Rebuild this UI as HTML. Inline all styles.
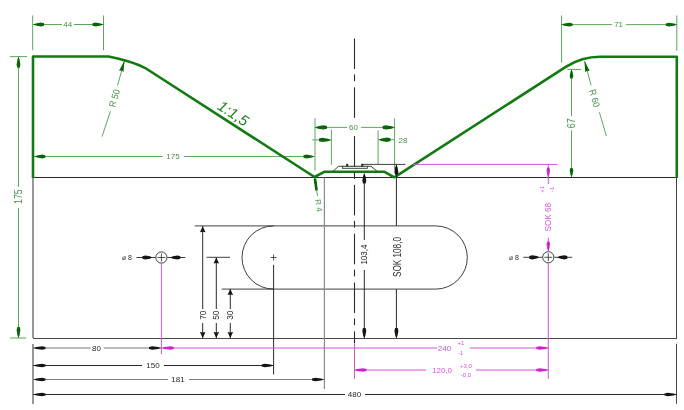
<!DOCTYPE html>
<html><head><meta charset="utf-8"><style>
html,body{margin:0;padding:0;background:#fff;width:684px;height:410px;overflow:hidden}
svg{display:block;will-change:transform}
text{font-family:"Liberation Sans", sans-serif}
</style></head><body>
<svg width="684" height="410" viewBox="0 0 684 410">
<line x1="33" y1="177.5" x2="677" y2="177.5" stroke="#2a2a2a" stroke-width="1" />
<line x1="33" y1="177.5" x2="33" y2="338" stroke="#959895" stroke-width="2" />
<line x1="676.5" y1="177.5" x2="676.5" y2="338.5" stroke="#474350" stroke-width="1" />
<line x1="33" y1="338.5" x2="677" y2="338.5" stroke="#4a4a4a" stroke-width="1" />
<line x1="32.7" y1="15.5" x2="32.7" y2="50.2" stroke="#5ea65e" stroke-width="1" />
<line x1="103.5" y1="15.5" x2="103.5" y2="50.2" stroke="#5ea65e" stroke-width="1" />
<line x1="33" y1="24.5" x2="62" y2="24.5" stroke="#5ea65e" stroke-width="1" />
<line x1="74" y1="24.5" x2="103.5" y2="24.5" stroke="#5ea65e" stroke-width="1" />
<polygon points="33.00,24.50 35.75,23.44 40.92,22.60 44.00,23.28 44.00,25.72 40.92,26.40 35.75,25.56" fill="#0a650a"/>
<polygon points="103.50,24.50 100.75,25.56 95.58,26.40 92.50,25.72 92.50,23.28 95.58,22.60 100.75,23.44" fill="#0a650a"/>
<text x="67.8" y="24.1" fill="#4a904a" font-size="8" text-anchor="middle" dominant-baseline="central" >44</text>
<line x1="561.6" y1="15.5" x2="561.6" y2="62.7" stroke="#5ea65e" stroke-width="1" />
<line x1="676.8" y1="15.5" x2="676.8" y2="50.6" stroke="#5ea65e" stroke-width="1" />
<line x1="561.6" y1="24.6" x2="612" y2="24.6" stroke="#5ea65e" stroke-width="1" />
<line x1="626" y1="24.6" x2="676.8" y2="24.6" stroke="#5ea65e" stroke-width="1" />
<polygon points="561.60,24.60 564.35,23.54 569.52,22.70 572.60,23.38 572.60,25.82 569.52,26.50 564.35,25.66" fill="#0a650a"/>
<polygon points="676.80,24.60 674.05,25.66 668.88,26.50 665.80,25.82 665.80,23.38 668.88,22.70 674.05,23.54" fill="#0a650a"/>
<text x="618.6" y="24.3" fill="#4a904a" font-size="8" text-anchor="middle" dominant-baseline="central" >71</text>
<line x1="10" y1="56.6" x2="27" y2="56.6" stroke="#5ea65e" stroke-width="1" />
<line x1="10" y1="338" x2="26" y2="338" stroke="#5ea65e" stroke-width="1" />
<line x1="18.5" y1="56.6" x2="18.5" y2="186.8" stroke="#5ea65e" stroke-width="1" />
<line x1="18.5" y1="208" x2="18.5" y2="338" stroke="#5ea65e" stroke-width="1" />
<polygon points="18.50,56.80 19.56,59.55 20.40,64.72 19.72,67.80 17.28,67.80 16.60,64.72 17.44,59.55" fill="#0a650a"/>
<polygon points="18.50,338.00 17.44,335.25 16.60,330.08 17.28,327.00 19.72,327.00 20.40,330.08 19.56,335.25" fill="#0a650a"/>
<text x="18.1" y="196.7" fill="#4a904a" font-size="10.8" text-anchor="middle" dominant-baseline="central" transform="rotate(-90 18.1 196.7)"  textLength="14.5" lengthAdjust="spacingAndGlyphs">175</text>
<line x1="33" y1="156.5" x2="162.7" y2="156.5" stroke="#5ea65e" stroke-width="1" />
<line x1="184.2" y1="156.5" x2="314.5" y2="156.5" stroke="#5ea65e" stroke-width="1" />
<polygon points="314.50,156.50 311.75,157.56 306.58,158.40 303.50,157.72 303.50,155.28 306.58,154.60 311.75,155.44" fill="#0a650a"/>
<polygon points="34.30,156.50 37.05,155.44 42.22,154.60 45.30,155.28 45.30,157.72 42.22,158.40 37.05,157.56" fill="#0a650a"/>
<text x="173" y="156.8" fill="#4a904a" font-size="8" text-anchor="middle" dominant-baseline="central" >175</text>
<line x1="124.7" y1="60.5" x2="117.5" y2="85.4" stroke="#5ea65e" stroke-width="1" />
<polygon points="124.50,60.40 123.49,72.08 121.54,70.56 119.07,70.80" fill="#0a650a"/>
<line x1="110.4" y1="111.3" x2="102" y2="136.6" stroke="#5ea65e" stroke-width="1" />
<text x="114.2" y="98.1" fill="#4a904a" font-size="9.5" text-anchor="middle" dominant-baseline="central" transform="rotate(-74 114.2 98.1)"  textLength="18" lengthAdjust="spacingAndGlyphs">R 50</text>
<line x1="585" y1="61.6" x2="591" y2="85.4" stroke="#5ea65e" stroke-width="1" />
<polygon points="584.30,60.60 589.73,71.00 587.26,70.76 585.31,72.28" fill="#0a650a"/>
<line x1="599.4" y1="112.3" x2="606.4" y2="136" stroke="#5ea65e" stroke-width="1" />
<text x="594.8" y="98.2" fill="#4a904a" font-size="9.5" text-anchor="middle" dominant-baseline="central" transform="rotate(74 594.8 98.2)"  textLength="18" lengthAdjust="spacingAndGlyphs">R 60</text>
<line x1="567.3" y1="69.4" x2="581" y2="69.4" stroke="#5ea65e" stroke-width="1" />
<line x1="571.5" y1="69.4" x2="571.5" y2="116.2" stroke="#5ea65e" stroke-width="1" />
<line x1="571.5" y1="130.4" x2="571.5" y2="177" stroke="#5ea65e" stroke-width="1" />
<polygon points="571.50,69.60 572.51,71.85 573.30,76.08 572.65,78.60 570.35,78.60 569.70,76.08 570.49,71.85" fill="#0a650a"/>
<polygon points="571.50,177.00 570.49,174.75 569.70,170.52 570.35,168.00 572.65,168.00 573.30,170.52 572.51,174.75" fill="#0a650a"/>
<text x="571.4" y="123.3" fill="#4a904a" font-size="10.5" text-anchor="middle" dominant-baseline="central" transform="rotate(-90 571.4 123.3)"  textLength="10" lengthAdjust="spacingAndGlyphs">67</text>
<text x="233.5" y="113" fill="#227f22" font-size="15" text-anchor="middle" dominant-baseline="central" transform="rotate(33 233.5 113)" font-style="italic">1:1,5</text>
<line x1="315" y1="118.2" x2="315" y2="170.6" stroke="#5ea65e" stroke-width="1" />
<line x1="394.6" y1="118.4" x2="394.6" y2="170" stroke="#5ea65e" stroke-width="1" />
<line x1="331.4" y1="129.6" x2="331.4" y2="164.8" stroke="#5ea65e" stroke-width="1" />
<line x1="378.1" y1="130.4" x2="378.1" y2="164" stroke="#5ea65e" stroke-width="1" />
<line x1="315" y1="127.4" x2="347" y2="127.4" stroke="#5ea65e" stroke-width="1" />
<line x1="361" y1="127.4" x2="394.6" y2="127.4" stroke="#5ea65e" stroke-width="1" />
<polygon points="315.00,127.40 318.00,126.17 323.64,125.20 327.00,125.99 327.00,128.81 323.64,129.60 318.00,128.63" fill="#0a650a"/>
<polygon points="394.60,127.40 391.60,128.63 385.96,129.60 382.60,128.81 382.60,125.99 385.96,125.20 391.60,126.17" fill="#0a650a"/>
<text x="353.5" y="127.8" fill="#4a904a" font-size="8" text-anchor="middle" dominant-baseline="central" >60</text>
<line x1="312.3" y1="139.9" x2="331" y2="139.9" stroke="#5ea65e" stroke-width="1" />
<polygon points="331.00,139.90 328.00,141.13 322.36,142.10 319.00,141.31 319.00,138.49 322.36,137.70 328.00,138.67" fill="#0a650a"/>
<line x1="378.1" y1="139.7" x2="394.6" y2="139.7" stroke="#5ea65e" stroke-width="1" />
<polygon points="378.50,139.70 381.50,138.47 387.14,137.50 390.50,138.29 390.50,141.11 387.14,141.90 381.50,140.93" fill="#0a650a"/>
<text x="403" y="140.2" fill="#4a904a" font-size="8" text-anchor="middle" dominant-baseline="central" >28</text>
<path d="M33,178 L33,56.5 L108.4,56.5 C118.4,58.2 137.6,63.2 146,68.5 L314.5,177 L324.3,171.8 L384.5,171.8 L394.3,177.3 L566.14,66.66 A62.5,62.5 0 0 1 600,56.7 L676.8,56.7 L676.8,178" fill="none" stroke="#127a12" stroke-width="2.6" stroke-linejoin="round"/>
<path d="M332.9,171.5 L338.4,166.3 L370.9,166.3 L376.7,170.8" fill="none" stroke="#2a2a2a" stroke-width="0.9"/>
<rect x="342.4" y="166.3" width="25" height="2.2" fill="#cfe8cf" stroke="#2a2a2a" stroke-width="0.7"/>
<rect x="346.2" y="163.8" width="2" height="2.5" fill="#2a2a2a"/>
<rect x="361.2" y="163.8" width="2" height="2.5" fill="#2a2a2a"/>
<line x1="362" y1="164.4" x2="405.5" y2="164.4" stroke="#2a2a2a" stroke-width="0.9" />
<line x1="354.5" y1="38.5" x2="354.5" y2="69.0" stroke="#2a2a2a" stroke-width="1.1" />
<line x1="354.5" y1="74.4" x2="354.5" y2="81.2" stroke="#2a2a2a" stroke-width="1.1" />
<line x1="354.5" y1="87.3" x2="354.5" y2="117.8" stroke="#2a2a2a" stroke-width="1.1" />
<line x1="354.5" y1="136.1" x2="354.5" y2="166.6" stroke="#2a2a2a" stroke-width="1.1" />
<line x1="354.5" y1="172.0" x2="354.5" y2="178.8" stroke="#2a2a2a" stroke-width="1.1" />
<line x1="354.5" y1="184.9" x2="354.5" y2="215.4" stroke="#2a2a2a" stroke-width="1.1" />
<line x1="354.5" y1="220.8" x2="354.5" y2="227.6" stroke="#2a2a2a" stroke-width="1.1" />
<line x1="354.5" y1="233.7" x2="354.5" y2="264.2" stroke="#2a2a2a" stroke-width="1.1" />
<line x1="354.5" y1="269.6" x2="354.5" y2="276.4" stroke="#2a2a2a" stroke-width="1.1" />
<line x1="354.5" y1="282.5" x2="354.5" y2="313.0" stroke="#2a2a2a" stroke-width="1.1" />
<line x1="354.5" y1="318.4" x2="354.5" y2="325.2" stroke="#2a2a2a" stroke-width="1.1" />
<line x1="354.5" y1="331.3" x2="354.5" y2="343.5" stroke="#2a2a2a" stroke-width="1.1" />
<line x1="314.9" y1="178.5" x2="316.6" y2="190.5" stroke="#0a650a" stroke-width="2.6" />
<polygon points="314.60,177.30 316.93,183.03 315.37,182.77 313.95,183.45" fill="#0a650a"/>
<line x1="316.5" y1="190" x2="317.6" y2="195.8" stroke="#5ea65e" stroke-width="1" />
<text x="318.5" y="205.5" fill="#4a904a" font-size="8" text-anchor="middle" dominant-baseline="central" transform="rotate(80 318.5 205.5)" >R 4</text>
<line x1="364.3" y1="173.6" x2="364.3" y2="240" stroke="#2a2a2a" stroke-width="1" />
<line x1="364.3" y1="270" x2="364.3" y2="338" stroke="#2a2a2a" stroke-width="1" />
<polygon points="364.30,173.60 365.42,176.10 366.30,180.80 365.58,183.60 363.02,183.60 362.30,180.80 363.18,176.10" fill="#151515"/>
<polygon points="364.30,338.00 363.18,335.50 362.30,330.80 363.02,328.00 365.58,328.00 366.30,330.80 365.42,335.50" fill="#151515"/>
<text x="363.8" y="254.6" fill="#2a2a2a" font-size="9.8" text-anchor="middle" dominant-baseline="central" transform="rotate(-90 363.8 254.6)"  textLength="20" lengthAdjust="spacingAndGlyphs">103,4</text>
<line x1="396.4" y1="164.5" x2="396.4" y2="225.9" stroke="#2a2a2a" stroke-width="1" />
<line x1="396.4" y1="289.1" x2="396.4" y2="338" stroke="#2a2a2a" stroke-width="1" />
<polygon points="396.40,164.80 397.52,167.30 398.40,172.00 397.68,174.80 395.12,174.80 394.40,172.00 395.28,167.30" fill="#151515"/>
<polygon points="396.40,338.00 395.28,335.50 394.40,330.80 395.12,328.00 397.68,328.00 398.40,330.80 397.52,335.50" fill="#151515"/>
<text x="396.9" y="257" fill="#2a2a2a" font-size="11" text-anchor="middle" dominant-baseline="central" transform="rotate(-90 396.9 257)"  textLength="40" lengthAdjust="spacingAndGlyphs">SOK 108,0</text>
<path d="M273.6,225.9 L435.7,225.9 A31.6,31.6 0 0 1 435.7,289.1 L273.6,289.1 A31.6,31.6 0 0 1 273.6,225.9" fill="none" stroke="#2a2a2a" stroke-width="0.9"/>
<line x1="194.8" y1="225.9" x2="273.6" y2="225.9" stroke="#2a2a2a" stroke-width="0.9" />
<line x1="221.7" y1="289.1" x2="273.6" y2="289.1" stroke="#2a2a2a" stroke-width="0.9" />
<line x1="270.6" y1="257.5" x2="276.6" y2="257.5" stroke="#2a2a2a" stroke-width="0.8" />
<line x1="273.6" y1="254.5" x2="273.6" y2="260.5" stroke="#2a2a2a" stroke-width="0.8" />
<line x1="273.6" y1="264.8" x2="273.6" y2="374.5" stroke="#2a2a2a" stroke-width="1" />
<line x1="324.4" y1="177.5" x2="324.4" y2="389" stroke="#8a8a8a" stroke-width="1.2" />
<line x1="206.5" y1="257.3" x2="230" y2="257.3" stroke="#2a2a2a" stroke-width="0.9" />
<line x1="202.7" y1="226" x2="202.7" y2="309" stroke="#2a2a2a" stroke-width="1" />
<line x1="202.7" y1="323" x2="202.7" y2="338" stroke="#2a2a2a" stroke-width="1" />
<polygon points="202.70,226.20 205.45,232.20 202.70,231.72 199.95,232.20" fill="#151515"/>
<polygon points="202.70,338.00 199.95,332.00 202.70,332.48 205.45,332.00" fill="#151515"/>
<text x="202.4" y="315.2" fill="#2a2a2a" font-size="9.5" text-anchor="middle" dominant-baseline="central" transform="rotate(-90 202.4 315.2)"  textLength="9.2" lengthAdjust="spacingAndGlyphs">70</text>
<line x1="216.3" y1="257.3" x2="216.3" y2="309" stroke="#2a2a2a" stroke-width="1" />
<line x1="216.3" y1="323" x2="216.3" y2="338" stroke="#2a2a2a" stroke-width="1" />
<polygon points="216.30,257.50 219.05,263.50 216.30,263.02 213.55,263.50" fill="#151515"/>
<polygon points="216.30,338.00 213.55,332.00 216.30,332.48 219.05,332.00" fill="#151515"/>
<text x="216" y="315.2" fill="#2a2a2a" font-size="9.5" text-anchor="middle" dominant-baseline="central" transform="rotate(-90 216 315.2)"  textLength="9.2" lengthAdjust="spacingAndGlyphs">50</text>
<line x1="230.3" y1="289" x2="230.3" y2="309" stroke="#2a2a2a" stroke-width="1" />
<line x1="230.3" y1="323" x2="230.3" y2="338" stroke="#2a2a2a" stroke-width="1" />
<polygon points="230.30,289.00 233.05,295.00 230.30,294.52 227.55,295.00" fill="#151515"/>
<polygon points="230.30,338.00 227.55,332.00 230.30,332.48 233.05,332.00" fill="#151515"/>
<text x="230" y="315.2" fill="#2a2a2a" font-size="9.5" text-anchor="middle" dominant-baseline="central" transform="rotate(-90 230 315.2)"  textLength="9.2" lengthAdjust="spacingAndGlyphs">30</text>
<circle cx="161.4" cy="257.5" r="5.6" fill="none" stroke="#2a2a2a" stroke-width="0.9"/>
<line x1="157.4" y1="257.5" x2="165.4" y2="257.5" stroke="#2a2a2a" stroke-width="0.8" />
<line x1="161.4" y1="253.5" x2="161.4" y2="261.5" stroke="#2a2a2a" stroke-width="0.8" />
<line x1="136.4" y1="257.5" x2="155.4" y2="257.5" stroke="#2a2a2a" stroke-width="0.9" />
<line x1="167.4" y1="257.5" x2="185.4" y2="257.5" stroke="#2a2a2a" stroke-width="0.9" />
<polygon points="152.40,257.50 149.90,258.68 145.20,259.60 142.40,258.84 142.40,256.16 145.20,255.40 149.90,256.32" fill="#151515"/>
<polygon points="170.40,257.50 172.90,256.32 177.60,255.40 180.40,256.16 180.40,258.84 177.60,259.60 172.90,258.68" fill="#151515"/>
<circle cx="548.3" cy="257.3" r="5.6" fill="none" stroke="#2a2a2a" stroke-width="0.9"/>
<line x1="544.3" y1="257.3" x2="552.3" y2="257.3" stroke="#2a2a2a" stroke-width="0.8" />
<line x1="548.3" y1="253.3" x2="548.3" y2="261.3" stroke="#2a2a2a" stroke-width="0.8" />
<line x1="523.3" y1="257.3" x2="542.3" y2="257.3" stroke="#2a2a2a" stroke-width="0.9" />
<line x1="554.3" y1="257.3" x2="572.3" y2="257.3" stroke="#2a2a2a" stroke-width="0.9" />
<polygon points="539.30,257.30 536.80,258.48 532.10,259.40 529.30,258.64 529.30,255.96 532.10,255.20 536.80,256.12" fill="#151515"/>
<polygon points="557.30,257.30 559.80,256.12 564.50,255.20 567.30,255.96 567.30,258.64 564.50,259.40 559.80,258.48" fill="#151515"/>
<text x="127" y="257.8" fill="#2a2a2a" font-size="7" text-anchor="middle" dominant-baseline="central" >⌀ 8</text>
<text x="514" y="257.6" fill="#2a2a2a" font-size="7" text-anchor="middle" dominant-baseline="central" >⌀ 8</text>
<line x1="161.4" y1="263" x2="161.4" y2="354" stroke="#d255d2" stroke-width="1" />
<line x1="548.3" y1="164.5" x2="548.3" y2="184" stroke="#d255d2" stroke-width="1" />
<line x1="548.3" y1="237.8" x2="548.3" y2="252" stroke="#d255d2" stroke-width="1" />
<line x1="548.3" y1="262.5" x2="548.3" y2="378.8" stroke="#d255d2" stroke-width="1" />
<line x1="413" y1="164.4" x2="557.5" y2="164.4" stroke="#d255d2" stroke-width="1" />
<polygon points="548.30,177.50 547.35,175.00 546.60,170.30 547.21,167.50 549.39,167.50 550.00,170.30 549.25,175.00" fill="#d020d0"/>
<polygon points="548.30,251.50 547.35,249.00 546.60,244.30 547.21,241.50 549.39,241.50 550.00,244.30 549.25,249.00" fill="#d020d0"/>
<text x="542" y="189.3" fill="#d255d2" font-size="6" text-anchor="middle" dominant-baseline="central" transform="rotate(-90 542 189.3)" >+1</text>
<text x="551.8" y="189.3" fill="#d255d2" font-size="6" text-anchor="middle" dominant-baseline="central" transform="rotate(-90 551.8 189.3)" >-1</text>
<text x="547.6" y="217.2" fill="#d255d2" font-size="9.2" text-anchor="middle" dominant-baseline="central" transform="rotate(-90 547.6 217.2)"  textLength="28.5" lengthAdjust="spacingAndGlyphs">SOK 68</text>
<line x1="33" y1="344" x2="33" y2="404" stroke="#959895" stroke-width="2" />
<line x1="676.5" y1="343.8" x2="676.5" y2="403.8" stroke="#474350" stroke-width="1" />
<line x1="33" y1="348" x2="90.5" y2="348" stroke="#777" stroke-width="1" />
<line x1="103.7" y1="348" x2="161.4" y2="348" stroke="#777" stroke-width="1" />
<polygon points="33.50,348.00 36.50,347.05 42.14,346.30 45.50,346.91 45.50,349.09 42.14,349.70 36.50,348.95" fill="#151515"/>
<polygon points="161.00,348.00 158.00,348.95 152.36,349.70 149.00,349.09 149.00,346.91 152.36,346.30 158.00,347.05" fill="#151515"/>
<text x="96.4" y="348.2" fill="#2a2a2a" font-size="8" text-anchor="middle" dominant-baseline="central" >80</text>
<line x1="161.4" y1="348" x2="437" y2="348" stroke="#d255d2" stroke-width="1" />
<line x1="470" y1="348" x2="548.3" y2="348" stroke="#d255d2" stroke-width="1" />
<polygon points="161.80,348.00 164.80,347.05 170.44,346.30 173.80,346.91 173.80,349.09 170.44,349.70 164.80,348.95" fill="#d020d0"/>
<polygon points="548.30,348.00 545.30,348.95 539.66,349.70 536.30,349.09 536.30,346.91 539.66,346.30 545.30,347.05" fill="#d020d0"/>
<text x="444.5" y="348.3" fill="#d255d2" font-size="8" text-anchor="middle" dominant-baseline="central" >240</text>
<text x="460.8" y="343" fill="#d255d2" font-size="6" text-anchor="middle" dominant-baseline="central" >+1</text>
<text x="460.8" y="352.5" fill="#d255d2" font-size="6" text-anchor="middle" dominant-baseline="central" >-1</text>
<line x1="354.5" y1="344" x2="354.5" y2="378.8" stroke="#d255d2" stroke-width="1" />
<line x1="354.5" y1="370" x2="426" y2="370" stroke="#d255d2" stroke-width="1" />
<line x1="476" y1="370" x2="548.3" y2="370" stroke="#d255d2" stroke-width="1" />
<polygon points="354.50,370.00 357.50,369.05 363.14,368.30 366.50,368.91 366.50,371.09 363.14,371.70 357.50,370.95" fill="#d020d0"/>
<polygon points="548.30,370.00 545.30,370.95 539.66,371.70 536.30,371.09 536.30,368.91 539.66,368.30 545.30,369.05" fill="#d020d0"/>
<text x="442" y="370.3" fill="#d255d2" font-size="8" text-anchor="middle" dominant-baseline="central" >120,0</text>
<text x="466" y="365.5" fill="#d255d2" font-size="6" text-anchor="middle" dominant-baseline="central" >+3,0</text>
<text x="466" y="375" fill="#d255d2" font-size="6" text-anchor="middle" dominant-baseline="central" >-0,0</text>
<line x1="33" y1="365.5" x2="142" y2="365.5" stroke="#2a2a2a" stroke-width="1" />
<line x1="164" y1="365.5" x2="273.6" y2="365.5" stroke="#2a2a2a" stroke-width="1" />
<polygon points="33.50,365.50 36.50,364.55 42.14,363.80 45.50,364.41 45.50,366.59 42.14,367.20 36.50,366.45" fill="#151515"/>
<polygon points="273.60,365.50 270.60,366.45 264.96,367.20 261.60,366.59 261.60,364.41 264.96,363.80 270.60,364.55" fill="#151515"/>
<text x="153" y="365.8" fill="#2a2a2a" font-size="8" text-anchor="middle" dominant-baseline="central" >150</text>
<line x1="33" y1="379.5" x2="168" y2="379.5" stroke="#808080" stroke-width="1" />
<line x1="189" y1="379.5" x2="324.4" y2="379.5" stroke="#808080" stroke-width="1" />
<polygon points="33.50,379.50 36.50,378.55 42.14,377.80 45.50,378.41 45.50,380.59 42.14,381.20 36.50,380.45" fill="#151515"/>
<polygon points="324.00,379.50 321.00,380.45 315.36,381.20 312.00,380.59 312.00,378.41 315.36,377.80 321.00,378.55" fill="#151515"/>
<text x="178" y="379.9" fill="#2a2a2a" font-size="8" text-anchor="middle" dominant-baseline="central" >181</text>
<line x1="33" y1="394.5" x2="345" y2="394.5" stroke="#2a2a2a" stroke-width="1" />
<line x1="365" y1="394.5" x2="676.8" y2="394.5" stroke="#2a2a2a" stroke-width="1" />
<polygon points="33.50,394.50 36.50,393.55 42.14,392.80 45.50,393.41 45.50,395.59 42.14,396.20 36.50,395.45" fill="#151515"/>
<polygon points="676.50,394.50 673.50,395.45 667.86,396.20 664.50,395.59 664.50,393.41 667.86,392.80 673.50,393.55" fill="#151515"/>
<text x="354.5" y="394.8" fill="#2a2a2a" font-size="8" text-anchor="middle" dominant-baseline="central" >480</text>
</svg></body></html>
